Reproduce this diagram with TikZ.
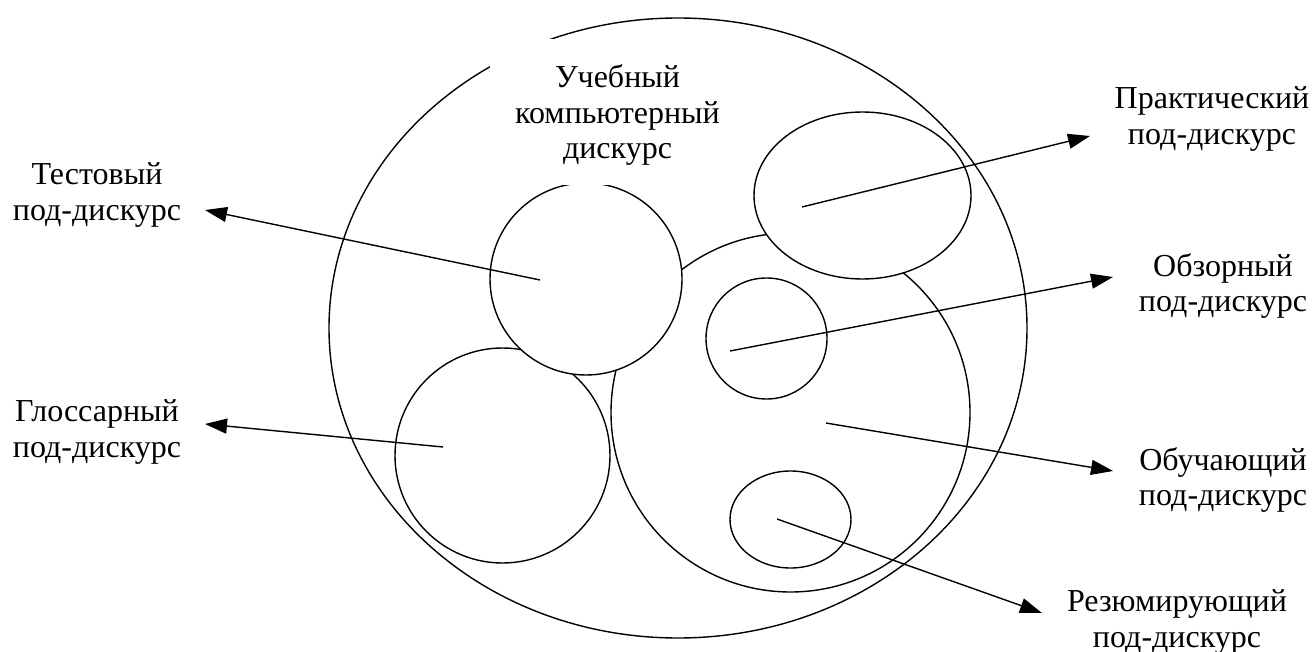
\documentclass[tikz,border=0pt]{standalone}
\usepackage{fontspec}
\setmainfont{Liberation Serif}
\usetikzlibrary{arrows.meta}
\begin{document}
\begin{tikzpicture}[x=1pt,y=-1pt,
  shapeline/.style={line width=1.4pt, draw=black},
  arr/.style={line width=1.4pt, -{Triangle[length=22pt,width=15pt]}},
  lbl/.style={font=\fontsize{32}{35.5}\selectfont, align=center, inner sep=0pt}]
\useasboundingbox (0,0) rectangle (1312,652);
% inner shapes (white filled so later ones hide earlier ones)
\filldraw[shapeline, fill=white] (502.5,455.5) circle [radius=107.5pt];
\filldraw[shapeline, fill=white] (790.5,412.5) circle [radius=179.5pt];
\filldraw[shapeline, fill=white] (586,279) circle [radius=96pt];
\filldraw[shapeline, fill=white] (862.5,195.5) ellipse [x radius=108.5pt, y radius=83.5pt];
\draw[shapeline] (766.5,338.5) circle [radius=60.5pt];
\draw[shapeline] (790.5,519.5) ellipse [x radius=60.5pt, y radius=48.5pt];
% outer ellipse
\draw[shapeline] (678,328) ellipse [x radius=349pt, y radius=310pt];
% title
\node[lbl, fill=white, minimum width=255pt, minimum height=146pt, text depth=0pt] (title) at (617.5,112)
  {Учебный\\компьютерный\\дискурс};
% labels
\node[lbl] (test) at (97,195) {Тестовый\\под-дискурс};
\node[lbl] (gloss) at (97,432) {Глоссарный\\под-дискурс};
\node[lbl] (prac) at (1212,119) {Практический\\под-дискурс};
\node[lbl] (obz) at (1223,286) {Обзорный\\под-дискурс};
\node[lbl] (obuch) at (1223,480) {Обучающий\\под-дискурс};
\node[lbl] (rez) at (1177,622) {Резюмирующий\\под-дискурс};
% arrow coordinates
\coordinate (testS) at (540,280);  \coordinate (testT) at (205,210);
\coordinate (glossS) at (443,447); \coordinate (glossT) at (205,424);
\coordinate (pracS) at (802,207);  \coordinate (pracT) at (1090,136);
\coordinate (obzS) at (730,351);   \coordinate (obzT) at (1113,277);
\coordinate (obuchS) at (826,423); \coordinate (obuchT) at (1113,471);
\coordinate (rezS) at (777,519);   \coordinate (rezT) at (1042,613);
\draw[arr] (testS) -- (testT);
\draw[arr] (glossS) -- (glossT);
\draw[arr] (pracS) -- (pracT);
\draw[arr] (obzS) -- (obzT);
\draw[arr] (obuchS) -- (obuchT);
\draw[arr] (rezS) -- (rezT);
\end{tikzpicture}
\end{document}
